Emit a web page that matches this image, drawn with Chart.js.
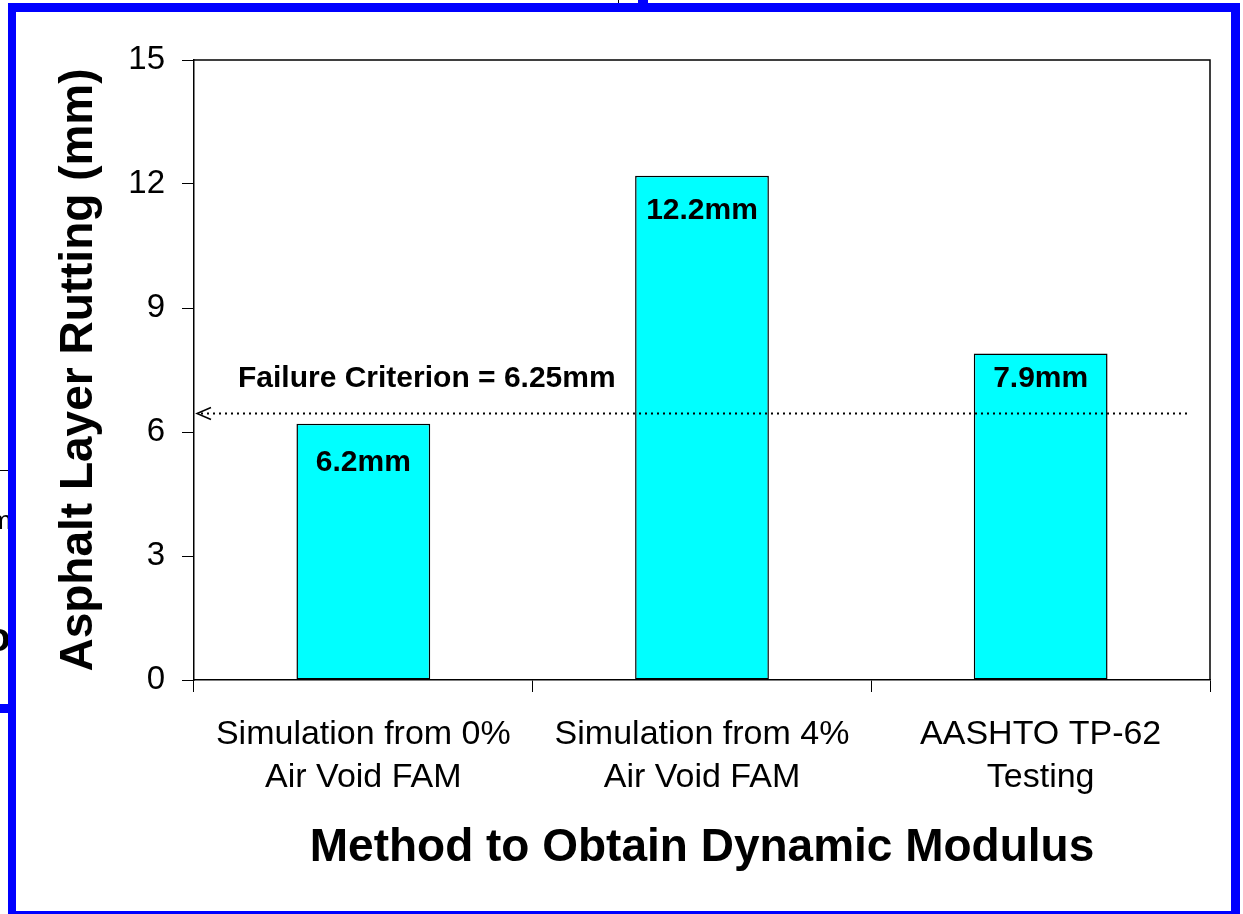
<!DOCTYPE html>
<html>
<head>
<meta charset="utf-8">
<script src="https://cdn.jsdelivr.net/npm/chart.js@4/dist/chart.umd.min.js"></script>
<style>
  html, body { margin: 0; padding: 0; background: #fff; }
  #wrap { position: relative; width: 1243px; height: 914px; overflow: hidden; }
  #c { position: absolute; left: 0; top: 0; }
  .bl { position: absolute; background: #0000ff; }
  .bk { position: absolute; background: #000; }
  .frag { position: absolute; left: 0; width: 8px; overflow: hidden; font-family: 'Liberation Sans', Arial, sans-serif; color: #000; }
</style>
</head>
<body>
<div id="wrap">
  <canvas id="c" width="1243" height="914"></canvas>
  <!-- slide frame -->
  <div class="bl" style="left:8px;top:3px;width:1232px;height:9px"></div>
  <div class="bl" style="left:8px;top:3px;width:8px;height:911px"></div>
  <div class="bl" style="left:1231px;top:3px;width:9px;height:911px"></div>
  <div class="bl" style="left:8px;top:911px;width:1232px;height:3px"></div>
  <div class="bl" style="left:638px;top:0;width:10px;height:4px"></div>
  <div class="bk" style="left:618px;top:0;width:1px;height:3px"></div>
  <div class="bk" style="left:0;top:470px;width:8px;height:1px"></div>
  <div class="bl" style="left:0;top:704px;width:8px;height:9px"></div>
  <div class="frag" style="top:505px;height:30px;font-size:26px"><span style="position:relative;left:-10px">m</span></div>
  <div class="frag" style="top:615px;height:45px;font-size:40px;font-weight:bold"><span style="position:relative;left:-14px">o</span></div>
</div>
<script>
// ── DATA ──
const categories = [
  ['Simulation from 0%', 'Air Void FAM'],
  ['Simulation from 4%', 'Air Void FAM'],
  ['AASHTO TP-62', 'Testing'],
];
const rutting = [6.2, 12.2, 7.9];
const barLabels = ['6.2mm', '12.2mm', '7.9mm'];
const yTicks = [0, 3, 6, 9, 12, 15];
const criterionLevel = 6.45;   // where the dotted line sits in the figure
const criterionText = 'Failure Criterion = 6.25mm';

const FF = "'Liberation Sans', Arial, sans-serif";

// ── PLUGINS ──
const frame = {
  id: 'frame',
  beforeDatasetsDraw(chart) {
    const { ctx, chartArea: a } = chart;
    ctx.save();
    ctx.strokeStyle = '#000';
    ctx.lineWidth = 1.5;
    ctx.beginPath();
    ctx.moveTo(a.left, a.top);
    ctx.lineTo(a.right, a.top);
    ctx.lineTo(a.right, a.bottom);
    ctx.stroke();
    ctx.restore();
  }
};

const labelDy = [39, 35, 25];
const barText = {
  id: 'barText',
  afterDatasetsDraw(chart) {
    const { ctx } = chart;
    const bars = chart.getDatasetMeta(0).data;
    ctx.save();
    ctx.font = 'bold 30px ' + FF;
    ctx.fillStyle = '#000';
    ctx.textAlign = 'center';
    ctx.textBaseline = 'middle';
    bars.forEach((b, i) => ctx.fillText(barLabels[i], b.x, b.y + labelDy[i]));
    ctx.restore();
  }
};

const criterion = {
  id: 'criterion',
  afterDatasetsDraw(chart) {
    const { ctx, chartArea: a, scales: { y } } = chart;
    const py = Math.round(y.getPixelForValue(criterionLevel)) + 0.5;
    const x0 = a.left + 3, x1 = a.right - 20;
    ctx.save();
    ctx.strokeStyle = '#000';
    ctx.lineWidth = 2;
    ctx.setLineDash([2, 4]);
    ctx.beginPath();
    ctx.moveTo(x0 + 4, py);
    ctx.lineTo(x1, py);
    ctx.stroke();
    ctx.setLineDash([]);
    ctx.lineWidth = 1.5;
    ctx.beginPath();
    ctx.moveTo(x0 + 14, py - 6);
    ctx.lineTo(x0, py);
    ctx.lineTo(x0 + 14, py + 6);
    ctx.stroke();
    ctx.font = 'bold 30px ' + FF;
    ctx.fillStyle = '#000';
    ctx.textAlign = 'left';
    ctx.textBaseline = 'middle';
    ctx.fillText(criterionText, a.left + 44, py - 35);
    ctx.restore();
  }
};

// ── CHART ──
new Chart(document.getElementById('c'), {
  type: 'bar',
  data: {
    labels: categories,
    datasets: [{
      data: rutting,
      backgroundColor: '#00ffff',
      borderColor: '#000',
      borderWidth: 1.5,
      borderSkipped: false,
      categoryPercentage: 1,
      barPercentage: 0.395
    }]
  },
  options: {
    responsive: false,
    devicePixelRatio: 1,
    animation: false,
    layout: { padding: { left: 0, top: 60, right: 33, bottom: 0 } },
    plugins: { legend: { display: false }, tooltip: { enabled: false } },
    scales: {
      x: {
        afterFit: s => { s.height = 234; },
        grid: { drawOnChartArea: false, drawTicks: true, tickLength: 12, color: '#000', lineWidth: 1 },
        border: { color: '#000', width: 1.5 },
        ticks: { color: '#000', padding: 22, maxRotation: 0, autoSkip: false, font: { family: FF, size: 34, lineHeight: 1.24 } },
        title: { display: true, text: 'Method to Obtain Dynamic Modulus', color: '#000', font: { family: FF, size: 46, weight: 'bold' }, padding: { top: 0, bottom: 38 } }
      },
      y: {
        min: 0, max: 15,
        afterFit: s => { s.width = 194; },
        afterBuildTicks: s => { s.ticks = yTicks.map(v => ({ value: v })); },
        grid: { drawOnChartArea: false, drawTicks: true, tickLength: 12, color: '#000', lineWidth: 1 },
        border: { color: '#000', width: 1.5 },
        ticks: { color: '#000', padding: 17, font: { family: FF, size: 33 } },
        title: { display: true, text: 'Asphalt Layer Rutting (mm)', color: '#000', font: { family: FF, size: 46, weight: 'bold' }, padding: { top: 52, bottom: 0 } }
      }
    }
  },
  plugins: [frame, barText, criterion]
});
</script>
</body>
</html>
